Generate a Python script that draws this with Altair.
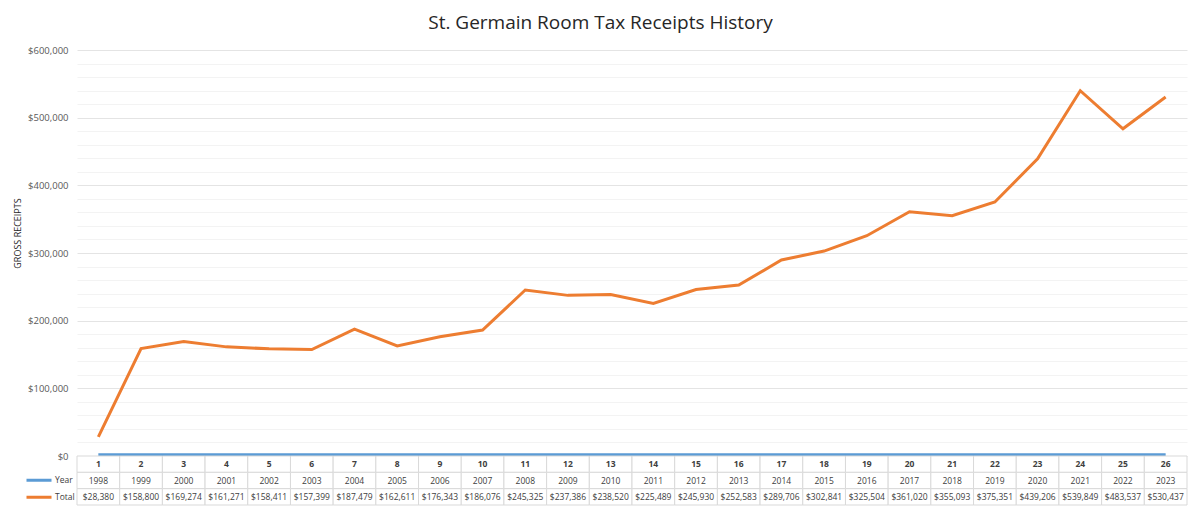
import altair as alt
import pandas as pd

# Reporting periods, calendar years and gross room-tax receipts
periods = [1, 2, 3, 4, 5, 6, 7, 8, 9, 10, 11, 12, 13, 14, 15, 16, 17, 18, 19, 20, 21, 22, 23, 24, 25, 26]
years = [1998, 1999, 2000, 2001, 2002, 2003, 2004, 2005, 2006, 2007, 2008, 2009, 2010,
         2011, 2012, 2013, 2014, 2015, 2016, 2017, 2018, 2019, 2020, 2021, 2022, 2023]
totals = [28380, 158800, 169274, 161271, 158411, 157399, 187479, 162611, 176343, 186076,
          245325, 237386, 238520, 225489, 245930, 252583, 289706, 302841, 325504, 361020,
          355093, 375351, 439206, 539849, 483537, 530437]

series_names = ["Year", "Total"]
series_colors = ["#5B9BD5", "#ED7D31"]
row_names = ["Period", "Year", "Total"]

FONT = "Open Sans"
TEXT = "#404040"
BORDER = "#d9d9d9"
GRID_MAJOR = "#e4e4e4"
GRID_MINOR = "#f3f3f3"

# long-form table for the two plotted series
series_df = pd.DataFrame(
    [{"period": p, "series": "Year", "value": y} for p, y in zip(periods, years)]
    + [{"period": p, "series": "Total", "value": t} for p, t in zip(periods, totals)]
)

# cells of the data table under the plot
table_rows = []
for p, y, t in zip(periods, years, totals):
    table_rows.append({"period": p, "row": "Period", "text": str(p)})
    table_rows.append({"period": p, "row": "Year", "text": str(y)})
    table_rows.append({"period": p, "row": "Total", "text": "${:,}".format(t)})
table_df = pd.DataFrame(table_rows)

color_scale = alt.Scale(domain=series_names, range=series_colors)

lines = alt.Chart(series_df).mark_line(strokeWidth=3).encode(
    x=alt.X("period:O", scale=alt.Scale(type="point", padding=0.5), axis=None),
    y=alt.Y(
        "value:Q",
        scale=alt.Scale(domain=[0, 600000], nice=False),
        title="GROSS RECEIPTS",
        axis=alt.Axis(
            values=list(range(0, 600001, 20000)),
            format="$,.0f",
            labelExpr="datum.value % 100000 === 0 ? datum.label : ''",
            gridColor={"expr": f"datum.value % 100000 === 0 ? '{GRID_MAJOR}' : '{GRID_MINOR}'"},
            gridWidth=1,
            domain=False,
            ticks=False,
            labelPadding=9,
            labelFont=FONT,
            labelFontSize=9.5,
            labelColor="#595959",
            titleFont=FONT,
            titleFontSize=9,
            titleFontWeight="normal",
            titleColor="#262626",
            titlePadding=5,
            titleY=183,
        ),
    ),
    color=alt.Color("series:N", scale=color_scale, legend=None),
).properties(width=1110, height=406)

x_band = alt.X("period:O", scale=alt.Scale(paddingInner=0, paddingOuter=0), axis=None)
y_band = alt.Y("row:N", scale=alt.Scale(domain=row_names, paddingInner=0, paddingOuter=0), axis=None)

cells = alt.Chart(table_df).mark_rect(fill="white", stroke=BORDER, strokeWidth=1).encode(
    x=x_band, y=y_band
)

period_text = alt.Chart(table_df).transform_filter(
    alt.datum.row == "Period"
).mark_text(font=FONT, fontSize=8.5, fontWeight="bold", color=TEXT).encode(
    x=x_band, y=y_band, text="text:N"
)

value_text = alt.Chart(table_df).transform_filter(
    alt.datum.row != "Period"
).mark_text(font=FONT, fontSize=8.5, color=TEXT).encode(
    x=x_band, y=y_band, text="text:N"
)

# invisible layer that carries the series key beside the table rows
key = alt.Chart(table_df).transform_filter(
    alt.datum.row != "Period"
).mark_line(opacity=0).encode(
    x=x_band, y=y_band,
    color=alt.Color(
        "row:N",
        scale=color_scale,
        legend=alt.Legend(
            title=None,
            orient="none",
            legendX=-52,
            legendY=16,
            symbolType="stroke",
            symbolSize=625,
            symbolStrokeWidth=3,
            symbolOpacity=1,
            clipHeight=16.5,
            rowPadding=0,
            labelOffset=2,
            labelFont=FONT,
            labelFontSize=8.5,
            labelColor=TEXT,
            padding=0,
        ),
    ),
)

table = alt.layer(cells, period_text, value_text, key).properties(width=1110, height=49)

chart = alt.vconcat(lines, table, spacing=0, bounds="flush").resolve_scale(color="independent").properties(
    title=alt.TitleParams(
        "St. Germain Room Tax Receipts History",
        font=FONT,
        fontSize=19,
        fontWeight="normal",
        color="#262626",
        anchor="middle",
        offset=12,
    ),
    padding={"left": 13, "top": 14, "right": 10, "bottom": 4},
    background="white",
).configure_view(stroke=None)

chart.save("out.html", embed_options={"renderer": "svg", "actions": False})
